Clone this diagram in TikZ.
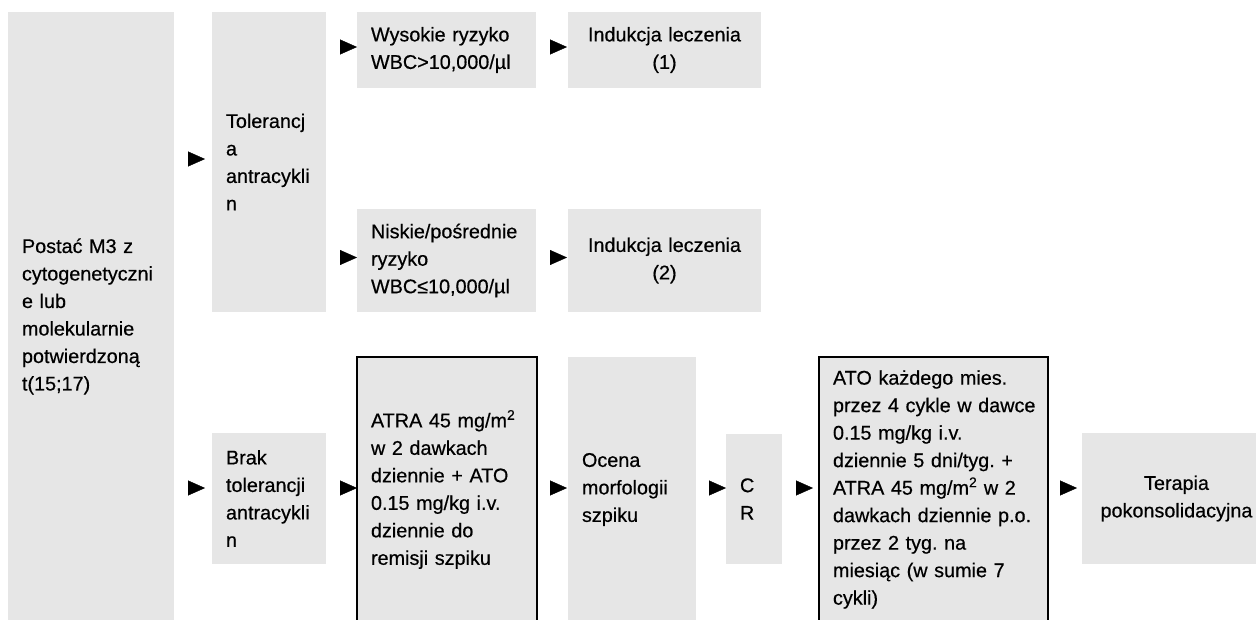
\documentclass[tikz,border=0pt]{standalone}
\usepackage{fontspec}
\setmainfont[FakeBold=0.5]{Liberation Sans}
\usetikzlibrary{arrows.meta,calc}
\definecolor{boxgray}{RGB}{230,230,230}
\hyphenpenalty=10000
\exhyphenpenalty=10000
\frenchspacing
\hbadness=10000
\hfuzz=20pt
\tikzset{
  box/.style={fill=boxgray, inner xsep=14pt, inner ysep=0pt, anchor=north west,
    outer sep=0pt, font=\fontsize{19.8}{27.5}\selectfont\frenchspacing, text=black},
  bord/.style={draw=black, line width=2pt},
  tri/.style={-{Triangle[length=17pt,width=15pt]}, line width=0.3pt, shorten <=14pt},
}
\begin{document}
\begin{tikzpicture}[x=1pt,y=-1pt]
\useasboundingbox (0,0) rectangle (1256,619);
\clip (0,0) rectangle (1256,619);
% top part
\node[box, minimum width=166pt, minimum height=609pt, text width=138pt, align=left] (m3) at (8,12)
  {Postać M3 z\\\mbox{cytogenetyczni}\\e lub\\molekularnie\\potwierdzoną\\t(15;17)};
\node[box, minimum width=114pt, minimum height=300pt, text width=86pt, align=left] (tol) at (212,12)
  {Tolerancj\\a\\\mbox{antracykli}\\n};
\node[box, minimum width=179pt, minimum height=76pt, text width=151pt, align=left] (wys) at (357,12)
  {\mbox{Wysokie ryzyko}\\\mbox{WBC>10,000/µl}};
\node[box, minimum width=193pt, minimum height=76pt, text width=165pt, align=center] (ind1) at (568,12)
  {\mbox{Indukcja leczenia}\\(1)};
\node[box, minimum width=179pt, minimum height=103pt, text width=151pt, align=left] (nis) at (357,209)
  {\mbox{Niskie/pośrednie}\\ryzyko\\\mbox{WBC≤10,000/µl}};
\node[box, minimum width=193pt, minimum height=103pt, text width=165pt, align=center] (ind2) at (568,209)
  {\mbox{Indukcja leczenia}\\(2)};
% bottom row
\node[box, minimum width=114pt, minimum height=131pt, text width=86pt, align=left] (brak) at (212,433)
  {Brak\\tolerancji\\\mbox{antracykli}\\n};
\node[box, bord, minimum width=180pt, minimum height=265pt, text width=152pt, align=left] (atra) at (357,357)
  {\mbox{ATRA 45 mg/m\textsuperscript{2}}\\\mbox{w 2 dawkach}\\\mbox{dziennie + ATO}\\\mbox{0.15 mg/kg i.v.}\\\mbox{dziennie do}\\\mbox{remisji szpiku}};
\node[box, minimum width=128pt, minimum height=265pt, text width=100pt, align=left] (ocena) at (568,357)
  {Ocena\\morfologii\\szpiku};
\node[box, minimum width=56pt, minimum height=130pt, text width=28pt, align=left] (cr) at (726,434)
  {C\\R};
\node[box, bord, minimum width=229pt, minimum height=265pt, text width=201pt, align=left] (ato) at (819,357)
  {\mbox{ATO każdego mies.}\\\mbox{przez 4 cykle w dawce}\\\mbox{0.15 mg/kg i.v.}\\\mbox{dziennie 5 dni/tyg. +}\\\mbox{ATRA 45 mg/m\textsuperscript{2} w 2}\\\mbox{dawkach dziennie p.o.}\\\mbox{przez 2 tyg. na}\\\mbox{miesiąc (w sumie 7}\\cykli)};
\node[box, minimum width=189pt, minimum height=131pt, text width=161pt, align=center] (ter) at (1082,433)
  {Terapia\\\mbox{pokonsolidacyjna}};
% arrows top
\draw[tri, shorten >=7pt] ($(m3.east |- tol.west)+(0,-3)$) -- ($(tol.west)+(0,-3)$);
\draw[tri] ($(tol.east |- wys.west)+(0,-3)$) -- ($(wys.west)+(0,-3)$);
\draw[tri, shorten >=1pt] ($(wys.east)+(0,-3)$) -- ($(ind1.west)+(0,-3)$);
\draw[tri] ($(tol.east |- nis.west)+(0,-3)$) -- ($(nis.west)+(0,-3)$);
\draw[tri, shorten >=1pt] ($(nis.east)+(0,-3)$) -- ($(ind2.west)+(0,-3)$);
% arrows bottom
\draw[tri, shorten >=7pt] ($(m3.east |- atra.west)+(0,-1.5)$) -- ($(brak.west |- atra.west)+(0,-1.5)$);
\draw[tri] ($(brak.east |- atra.west)+(0,-1.5)$) -- ($(atra.west)+(0,-1.5)$);
\draw[tri, shorten <=13pt, shorten >=1pt] ($(atra.east)+(0,-1.5)$) -- ($(ocena.west)+(0,-1.5)$);
\draw[tri, shorten <=13pt] ($(ocena.east |- atra.west)+(0,-1.5)$) -- ($(cr.west |- atra.west)+(0,-1.5)$);
\draw[tri, shorten >=6pt] ($(cr.east |- atra.west)+(0,-1.5)$) -- ($(ato.west)+(0,-1.5)$);
\draw[tri, shorten <=12pt, shorten >=5pt] ($(ato.east)+(0,-1.5)$) -- ($(ter.west |- atra.west)+(0,-1.5)$);
\end{tikzpicture}
\end{document}
